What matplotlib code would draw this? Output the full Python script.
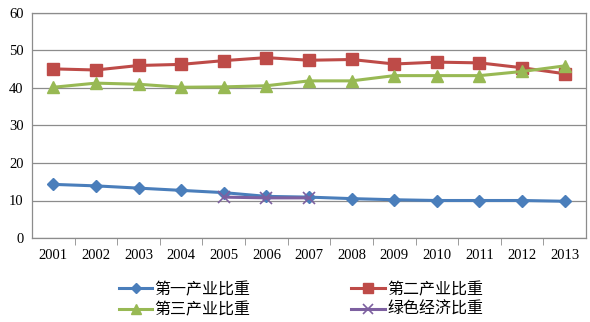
import matplotlib
matplotlib.use("Agg")
import matplotlib.pyplot as plt
from matplotlib.lines import Line2D

years = ["2001", "2002", "2003", "2004", "2005", "2006", "2007",
         "2008", "2009", "2010", "2011", "2012", "2013"]
primary = [14.3, 13.9, 13.3, 12.7, 12.1, 11.1, 10.9, 10.5, 10.2, 10.0, 10.0, 10.0, 9.8]
secondary = [45.1, 44.8, 46.0, 46.3, 47.3, 48.1, 47.4, 47.6, 46.4, 46.9, 46.7, 45.4, 43.8]
tertiary = [40.2, 41.3, 41.0, 40.2, 40.3, 40.6, 41.9, 41.9, 43.3, 43.3, 43.3, 44.4, 45.9]
green_years = ["2005", "2006", "2007"]
green = [10.9, 10.7, 10.7]
labels = ["第一产业比重", "第二产业比重", "第三产业比重", "绿色经济比重"]
yticks = [0, 10, 20, 30, 40, 50, 60]

fig = plt.figure(figsize=(5.9, 3.22), dpi=100)
ax = fig.add_axes([32/590, 1-238/322, (586-32)/590, (238-13)/322])

x = list(range(len(years)))
gx = [years.index(y) for y in green_years]

c_blue = "#4A7EBB"
c_red = "#BE4B48"
c_green = "#98B954"
c_purple = "#7D60A0"

ax.plot(x, primary, color=c_blue, lw=2.2, marker="D", ms=6.5, zorder=4)
ax.plot(x, secondary, color=c_red, lw=2.2, marker="s", ms=8.5, zorder=3)
ax.plot(x, tertiary, color=c_green, lw=2.2, marker="^", ms=9, zorder=3)
ax.plot(gx, green, color=c_purple, lw=2.2, marker="x", ms=8, mew=1.2, zorder=5)

ax.set_xlim(-0.5, len(years) - 0.5)
ax.set_ylim(0, 60)
ax.set_yticks(yticks)
ax.set_yticklabels([str(v) for v in yticks], fontfamily="Liberation Serif", fontsize=10.5)
ax.yaxis.grid(True, color="#8C8C8C", lw=0.9)
ax.set_axisbelow(True)
ax.tick_params(axis="y", length=0, pad=6)

ax.set_xticks(x)
ax.set_xticklabels(years, fontfamily="Liberation Serif", fontsize=10.5)
ax.tick_params(axis="x", length=0, pad=8)
ax.set_xticks([i + 0.5 for i in range(len(years) - 1)], minor=True)
ax.tick_params(axis="x", which="minor", length=5, direction="out", color="#8C8C8C")

for s in ["left", "bottom", "right", "top"]:
    ax.spines[s].set_color("#8C8C8C")
    ax.spines[s].set_linewidth(0.9)

handles = [
    Line2D([], [], color=c_blue, lw=2.2, marker="D", ms=5.5),
    Line2D([], [], color=c_red, lw=2.2, marker="s", ms=7),
    Line2D([], [], color=c_green, lw=2.2, marker="^", ms=7),
    Line2D([], [], color=c_purple, lw=2.2, marker="x", ms=7, mew=1.2),
]
order = [0, 2, 1, 3]
fig.legend([handles[i] for i in order], [labels[i] for i in order], ncol=2,
           loc="center", bbox_to_anchor=(301/590, 1 - 299.5/322), frameon=False,
           prop={"family": ["Noto Sans CJK SC", "DejaVu Sans"], "size": 11.5},
           handlelength=2.1, columnspacing=6.3, labelspacing=0.2,
           handletextpad=0.15, borderpad=0, borderaxespad=0)

fig.savefig("out.png", dpi=100)
